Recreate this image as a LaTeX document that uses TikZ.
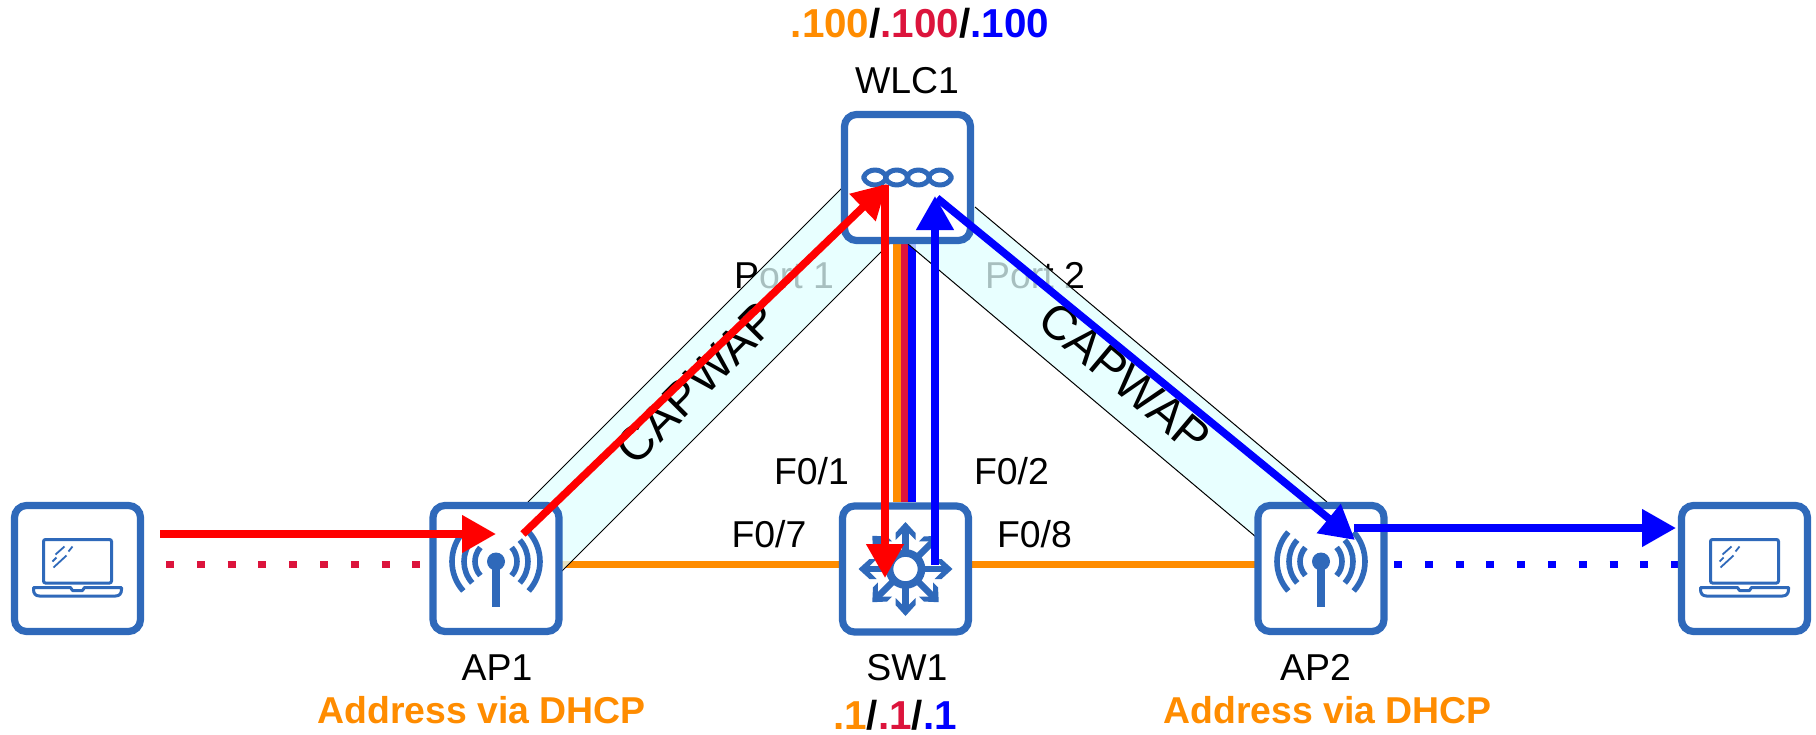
\documentclass[tikz,border=0pt]{standalone}
\usepackage{fontspec}
\setmainfont{Liberation Sans}
\usetikzlibrary{arrows.meta}
\definecolor{boxblue}{HTML}{2F69BA}
\definecolor{dhcporange}{HTML}{FF8C00}
\definecolor{vlancrimson}{HTML}{DC143C}
\definecolor{tunnelcyan}{HTML}{E0FFFF}
\tikzset{
	device/.style={draw=boxblue,fill=white,line width=3.6pt,rounded corners=6pt,minimum size=63pt,inner sep=0pt},
	lbl/.style={anchor=base,inner sep=0pt,font=\fontsize{18.7}{21}\selectfont},
	boldlbl/.style={anchor=base,inner sep=0pt,font=\fontsize{20.2}{22}\selectfont\bfseries},
	dhcplbl/.style={anchor=base,inner sep=0pt,text=dhcporange,font=\fontsize{18.7}{20}\selectfont\bfseries},
	capwaplbl/.style={anchor=center,inner sep=0pt,font=\fontsize{24}{26}\selectfont},
	tunnel/.style={fill=tunnelcyan,fill opacity=0.75},
	tunneledge/.style={draw=black,line width=0.5pt},
	wire/.style={line width=3.7pt},
	flow/.style={line width=3.8pt,-{Triangle[length=17pt,width=18pt]}},
	wifi/.style={line width=3.9pt,dash pattern=on 4pt off 11.4pt},
	apicon/.pic={
		\fill[boxblue] (0,-7) circle (9);
		\draw[boxblue,line width=3.6pt] (0,-7) -- (0,38);
		\foreach \r in {21,32,44}{
			\draw[boxblue,line width=2.8pt] ({\r*cos(42)},{-7+\r*sin(42)}) arc[start angle=42,end angle=-42,radius=\r];
			\draw[boxblue,line width=2.8pt] ({-\r*cos(42)},{-7+\r*sin(42)}) arc[start angle=138,end angle=222,radius=\r];
		}
	},
	swicon/.pic={
		\draw[boxblue,line width=3.8pt] (0,0) circle (16);
		\foreach \a in {0,45,...,315}{
			\begin{scope}[rotate=\a]
				\draw[boxblue,line width=3.3pt] (18,0) -- (42,0);
				\fill[boxblue] (47,0) -- (36,10) -- (29,10) -- (36,3) -- (36,-3) -- (29,-10) -- (36,-10) -- cycle;
			\end{scope}
		}
	},
	wlcicon/.pic={
		\foreach \x in {-32.5,-10.8,10.8,32.5}{
			\draw[boxblue,line width=2.5pt,line join=round] (\x-11.5,0) .. controls (\x-8,-10) and (\x+8,-10) .. (\x+11.5,0) .. controls (\x+8,10) and (\x-8,10) .. cycle;
		}
	},
	lapicon/.pic={
		\draw[boxblue,line width=1.5pt,rounded corners=1pt] (-34,-29) rectangle (34,14.5);
		\draw[boxblue,line width=1.5pt,line join=round] (-44,19) -- (-7,19) -- (-5,22) -- (5,22) -- (7,19) -- (44,19) -- (44,21) .. controls (44,25) and (42,27.5) .. (38,27.5) -- (-38,27.5) .. controls (-42,27.5) and (-44,25) .. (-44,21) -- cycle;
		% glass
		\draw[boxblue,line width=0.9pt] (-22,-14) -- (-13,-22);
		\draw[boxblue,line width=0.9pt] (-24,-1) -- (-11,-13);
		\draw[boxblue,line width=0.9pt] (-25,-7) -- (-21,-11);
		\draw[boxblue,line width=0.9pt] (-9,-17) -- (-5,-22);
	},
}
\begin{document}
\begin{tikzpicture}[x=0.5pt,y=-0.5pt]
	\useasboundingbox (0,0) rectangle (1816,734);
	% port labels sit under the tunnels
	\node[lbl] (port1) at (784,288) {Port 1};
	\node[lbl] (port2) at (1035,288) {Port 2};
	% free ends of the links
	\coordinate (t1a) at (897,244);
	\coordinate (t1b) at (897,502);
	\coordinate (t2a) at (904.5,244);
	\coordinate (t2b) at (904.5,502);
	\coordinate (t3a) at (912,244);
	\coordinate (t3b) at (912,502);
	\coordinate (ap1port) at (562,564.5);
	\coordinate (sw7port) at (840,564.5);
	\coordinate (sw8port) at (971,564.5);
	\coordinate (ap2port) at (1256,564.5);
	% trunks and access links
	\draw[wire,dhcporange] (t1a) -- (t1b);
	\draw[wire,vlancrimson] (t2a) -- (t2b);
	\draw[wire,blue] (t3a) -- (t3b);
	\draw[wire,dhcporange] (ap1port) -- (sw7port);
	\draw[wire,dhcporange] (sw8port) -- (ap2port);
	% tunnels
	\fill[tunnel] (528,502) -- (842,188) -- (889,244) -- (562,571) -- cycle;
	\fill[tunnel] (975,207) -- (1327,502) -- (1256,537) -- (908,244) -- cycle;
	\draw[tunneledge] (528,502) -- (842,188);
	\draw[tunneledge] (562,571) -- (889,244);
	\draw[tunneledge] (975,207) -- (1327,502);
	\draw[tunneledge] (908,244) -- (1256,537);
	% wifi
	\coordinate (dots1a) at (166,564.5);
	\coordinate (dots1b) at (431,564.5);
	\coordinate (dots2a) at (1394,564.5);
	\coordinate (dots2b) at (1678,564.5);
	\draw[wifi,vlancrimson] (dots1a) -- (dots1b);
	\draw[wifi,blue] (dots2a) -- (dots2b);
	% devices
	\node[device] (lap1) at (77.5,568.5) {};
	\node[device] (ap1) at (496,568.5) {};
	\node[device] (wlc1) at (907.5,177.5) {};
	\node[device] (sw1) at (905.5,569) {};
	\node[device] (ap2) at (1321,568.5) {};
	\node[device] (lap2) at (1744.5,568.5) {};
	\pic at (lap1) {lapicon};
	\pic at (ap1) {apicon};
	\pic at (wlc1) {wlcicon};
	\pic at (sw1) {swicon};
	\pic at (ap2) {apicon};
	\pic at (lap2) {lapicon};
	% labels
	\node[boldlbl] (wlcaddr) at (920,37) {\textcolor{dhcporange}{.100}/\textcolor{vlancrimson}{.100}/\textcolor{blue}{.100}};
	\node[lbl] (wlcname) at (907,93) {WLC1};
	\node[lbl] (ap1name) at (497,680) {AP1};
	\node[lbl] (swname) at (907,680) {SW1};
	\node[lbl] (ap2name) at (1315.5,680) {AP2};
	\node[dhcplbl] (ap1addr) at (481.5,723) {Address via DHCP};
	\node[dhcplbl] (ap2addr) at (1327.5,723) {Address via DHCP};
	\node[boldlbl] (swaddr) at (895,729.5) {\textcolor{dhcporange}{.1}/\textcolor{vlancrimson}{.1}/\textcolor{blue}{.1}};
	\node[lbl] (f01) at (811.5,484) {F0/1};
	\node[lbl] (f02) at (1011.5,484) {F0/2};
	\node[lbl] (f07) at (769,547) {F0/7};
	\node[lbl] (f08) at (1034.5,547) {F0/8};
	\node[capwaplbl,rotate=45] (capwap1) at (697,383) {CAPWAP};
	\node[capwaplbl,rotate=-40] (capwap2) at (1125,378) {CAPWAP};
	% traffic
	\coordinate (redstart) at (160,534);
	\coordinate (redap) at (496,534);
	\coordinate (redout) at (523,534);
	\coordinate (redwlc) at (887,184);
	\coordinate (reddown) at (885,185);
	\coordinate (redsw) at (885,578);
	\coordinate (blueup) at (935,565);
	\coordinate (bluewlc) at (935,196);
	\coordinate (blueout) at (937,198);
	\coordinate (blueap) at (1355,540);
	\coordinate (bluestart) at (1354,528);
	\coordinate (bluelap) at (1676,528);
	\draw[flow,red] (redstart) -- (redap);
	\draw[flow,red] (redout) -- (redwlc);
	\draw[flow,red] (reddown) -- (redsw);
	\draw[flow,blue] (blueup) -- (bluewlc);
	\draw[flow,blue] (blueout) -- (blueap);
	\draw[flow,blue] (bluestart) -- (bluelap);
\end{tikzpicture}
\end{document}
